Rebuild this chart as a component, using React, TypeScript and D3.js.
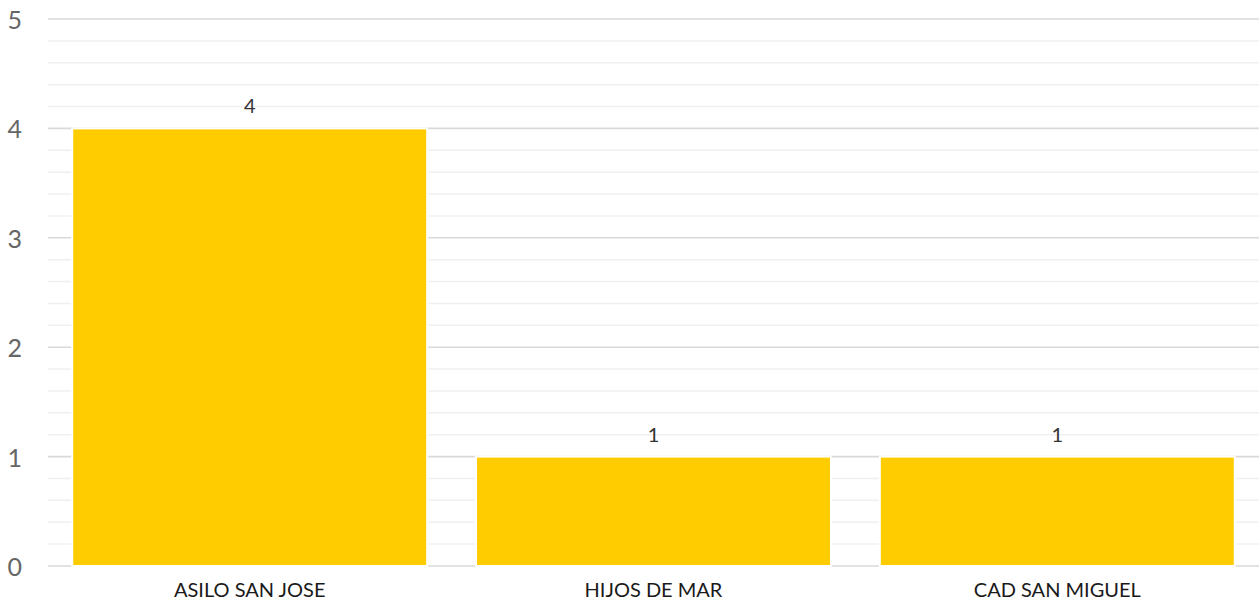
import { useEffect, useRef } from 'react';
import * as d3 from 'd3';

const categories = ['ASILO SAN JOSE', 'HIJOS DE MAR', 'CAD SAN MIGUEL'];
const values = [4, 1, 1];
const yTicks = [0, 1, 2, 3, 4, 5];

const WIDTH = 1260;
const HEIGHT = 606;
const PLOT = { left: 48, right: 1259, top: 19, bottom: 566 };
const FONT = 'Lato, "Open Sans", sans-serif';

export default function App() {
  const svgRef = useRef<SVGSVGElement>(null);

  useEffect(() => {
    document.body.style.margin = '0';
    if (!svgRef.current) return;
    const svg = d3.select(svgRef.current);
    svg.selectAll('*').remove();

    const x = d3.scaleBand<string>()
      .domain(categories)
      .range([PLOT.left, PLOT.right])
      .paddingInner(0.121)
      .paddingOuter(0.06);
    const y = d3.scaleLinear().domain([0, 5]).range([PLOT.bottom, PLOT.top]);

    // minor gridlines every 0.2
    const minor = d3.range(0, 25).map(i => i / 5).filter(v => !Number.isInteger(v));
    svg.append('g')
      .selectAll('line')
      .data(minor)
      .join('line')
      .attr('x1', PLOT.left)
      .attr('x2', PLOT.right)
      .attr('y1', d => y(d))
      .attr('y2', d => y(d))
      .attr('stroke', '#f0f0f0')
      .attr('stroke-width', 1.5);

    svg.append('g')
      .selectAll('line')
      .data(yTicks)
      .join('line')
      .attr('x1', PLOT.left)
      .attr('x2', PLOT.right)
      .attr('y1', d => y(d))
      .attr('y2', d => y(d))
      .attr('stroke', '#d9d9d9')
      .attr('stroke-width', 1.6);

    svg.append('g')
      .selectAll('text')
      .data(yTicks)
      .join('text')
      .attr('x', 22)
      .attr('y', d => y(d))
      .attr('text-anchor', 'end')
      .attr('dominant-baseline', 'central')
      .attr('fill', '#666')
      .attr('font-family', FONT)
      .attr('font-size', 25)
      .text(d => d);

    const data = categories.map((c, i) => ({ c, v: values[i] }));

    svg.append('g')
      .selectAll('rect')
      .data(data)
      .join('rect')
      .attr('x', d => x(d.c) ?? 0)
      .attr('width', x.bandwidth())
      .attr('y', d => y(d.v))
      .attr('height', d => y(0) - y(d.v))
      .attr('fill', '#ffcc00')
      .attr('stroke', '#fff')
      .attr('stroke-width', 2);

    svg.append('g')
      .selectAll('text')
      .data(data)
      .join('text')
      .attr('x', d => (x(d.c) ?? 0) + x.bandwidth() / 2)
      .attr('y', d => y(d.v) - 15)
      .attr('text-anchor', 'middle')
      .attr('fill', '#333')
      .attr('font-family', FONT)
      .attr('font-size', 20)
      .text(d => d.v);

    svg.append('g')
      .selectAll('text')
      .data(categories)
      .join('text')
      .attr('x', d => (x(d) ?? 0) + x.bandwidth() / 2)
      .attr('y', 597)
      .attr('text-anchor', 'middle')
      .attr('fill', '#1a1a1a')
      .attr('font-family', FONT)
      .attr('font-size', 20)
      .text(d => d);
  }, []);

  return <svg ref={svgRef} width={WIDTH} height={HEIGHT} style={{ display: 'block', background: '#fff' }} />;
}
